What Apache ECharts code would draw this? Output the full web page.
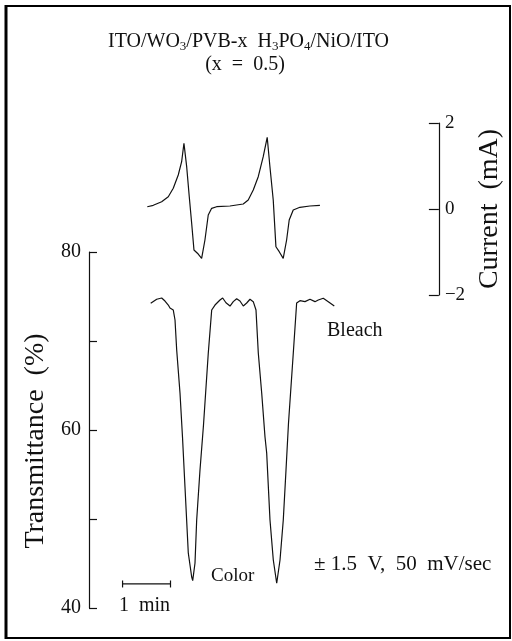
<!DOCTYPE html>
<html>
<head>
<meta charset="utf-8">
<script src="https://cdn.jsdelivr.net/npm/echarts@6/dist/echarts.min.js"></script>
<style>
html,body{margin:0;padding:0;background:#fff;}
#chart{width:512px;height:641px;}
</style>
</head>
<body>
<div id="chart"></div>
<script>
// time in minutes, transmittance in %
var transTime = [1.287,1.412,1.516,1.585,1.654,1.689,1.725,1.758,1.794,1.829,1.898,1.950,2.002,2.071,2.142,2.163,2.211,2.246,2.315,2.388,2.488,2.559,2.628,2.732,2.788,2.857,2.941,3.009,3.080,3.149,3.218,3.289,3.358,3.426,3.483,3.531,3.602,3.671,3.706,3.775,3.844,3.915,3.984,4.052,4.109,4.161,4.261,4.331,4.400,4.505,4.609,4.713,4.782,4.886,4.991,5.116];
var transValue = [74.24,74.69,74.83,74.49,74.04,73.71,73.93,73.48,72.36,68.99,64.16,59.21,53.6,46.18,43.48,43.07,45.06,49.89,55.51,60.56,68.65,73.48,74.04,74.61,74.83,74.30,73.93,74.42,74.75,74.49,73.93,74.27,74.69,74.42,73.48,68.65,64.16,59.21,57.42,49.89,45.39,42.78,45.39,49.89,55.51,60.79,68.65,74.27,74.53,74.42,74.69,74.42,74.61,74.80,74.42,73.93];
// time in minutes, current in mA
var currTime = [1.216,1.341,1.516,1.654,1.758,1.862,1.933,1.981,2.038,2.092,2.142,2.190,2.279,2.350,2.419,2.488,2.559,2.663,2.941,3.218,3.322,3.427,3.531,3.635,3.718,3.775,3.844,3.900,3.969,4.052,4.123,4.177,4.261,4.400,4.609,4.818];
var currValue = [0.053,0.086,0.17,0.286,0.481,0.791,1.10,1.528,0.984,0.286,-0.333,-0.953,-1.047,-1.147,-0.721,-0.140,0.016,0.053,0.07,0.116,0.209,0.442,0.751,1.216,1.667,0.984,0.209,-0.877,-0.993,-1.147,-0.721,-0.256,-0.023,0.04,0.07,0.086];
// 1 min scale bar
var scaleBarTime = [0.70, 1.70];
var scaleBarLevel = 42.7;
var transTicks = [40, 50, 60, 70, 80];
var transLabels = ['40', '', '60', '', '80'];
var currTicks = [-2, 0, 2];
var currLabels = ['\u22122', '0', '2'];

function zip(a, b){ return a.map(function(v,i){ return [v, b[i]]; }); }

var FONT = '"Liberation Serif", "DejaVu Serif", serif';
var INK = '#111';

var chart = echarts.init(document.getElementById('chart'), null, {renderer:'canvas'});
var option = {
  animation: false,
  backgroundColor: '#fff',
  textStyle: {fontFamily: FONT, color: INK},
  grid: [
    {left: 89, right: 73, top: 252, bottom: 33},
    {left: 89, right: 73, top: 123, bottom: 346}
  ],
  xAxis: [
    {gridIndex: 0, type: 'value', min: 0, max: 7.3, show: false},
    {gridIndex: 1, type: 'value', min: 0, max: 7.3, show: false}
  ],
  yAxis: [
    {
      gridIndex: 0, type: 'value', min: 40, max: 80, interval: 10, position: 'left',
      axisLine: {show: true, onZero: false, lineStyle: {color: INK, width: 1.2}},
      axisTick: {show: true, inside: true, length: 8, lineStyle: {color: INK, width: 1.2}},
      splitLine: {show: false},
      axisLabel: {
        margin: 8, fontSize: 20, fontFamily: FONT, color: INK,
        formatter: function(v){ var i = transTicks.indexOf(v); return i >= 0 ? transLabels[i] : ''; }
      },
      name: 'Transmittance  (%)', nameLocation: 'middle', nameGap: 32,
      nameTextStyle: {fontSize: 28, fontFamily: FONT, color: INK, padding: [0, 22, 0, 0]}
    },
    {
      gridIndex: 1, type: 'value', min: -2, max: 2, interval: 2, position: 'right',
      axisLine: {show: true, onZero: false, lineStyle: {color: INK, width: 1.2}},
      axisTick: {show: true, inside: true, length: 10, lineStyle: {color: INK, width: 1.2}},
      splitLine: {show: false},
      axisLabel: {
        margin: 6, fontSize: 19, fontFamily: FONT, color: INK,
        formatter: function(v){ var i = currTicks.indexOf(v); return i >= 0 ? currLabels[i] : ''; }
      },
      name: 'Current  (mA)', nameLocation: 'middle', nameGap: 34, nameRotate: 90,
      nameTextStyle: {fontSize: 28, fontFamily: FONT, color: INK}
    }
  ],
  series: [
    {
      type: 'line', xAxisIndex: 0, yAxisIndex: 0, data: zip(transTime, transValue),
      showSymbol: false, symbol: 'none', lineStyle: {color: INK, width: 1.2}
    },
    {
      type: 'line', xAxisIndex: 1, yAxisIndex: 1, data: zip(currTime, currValue),
      showSymbol: false, symbol: 'none', lineStyle: {color: INK, width: 1.2}
    },
    {
      type: 'line', xAxisIndex: 0, yAxisIndex: 0,
      data: scaleBarTime.map(function(t){ return [t, scaleBarLevel]; }),
      symbol: 'rect', symbolSize: [1.2, 7], itemStyle: {color: INK},
      lineStyle: {color: INK, width: 1.2}
    }
  ],
  graphic: [
    {type: 'line', shape: {x1: 6, y1: 5, x2: 6, y2: 639}, style: {stroke: '#000', lineWidth: 3}},
    {type: 'line', shape: {x1: 5, y1: 6, x2: 511, y2: 6}, style: {stroke: '#000', lineWidth: 2}},
    {type: 'line', shape: {x1: 510, y1: 5, x2: 510, y2: 639}, style: {stroke: '#000', lineWidth: 2}},
    {type: 'line', shape: {x1: 5, y1: 638, x2: 511, y2: 638}, style: {stroke: '#000', lineWidth: 2}},
    {
      type: 'text', left: 108, top: 32,
      style: {
        text: 'ITO/WO{s|3}/PVB-x  H{s|3}PO{s|4}/NiO/ITO',
        font: '20px ' + FONT, fill: INK,
        rich: {s: {fontSize: 13, fontFamily: FONT, padding: [10, 0, 0, 0], fill: INK}}
      }
    },
    {type: 'text', x: 245, y: 65, style: {text: '(x  =  0.5)', font: '20px ' + FONT, fill: INK, textAlign: 'center', textVerticalAlign: 'middle'}},
    {type: 'text', x: 327, y: 331, style: {text: 'Bleach', font: '20px ' + FONT, fill: INK, textAlign: 'left', textVerticalAlign: 'middle'}},
    {type: 'text', x: 211, y: 576, style: {text: 'Color', font: '19px ' + FONT, fill: INK, textAlign: 'left', textVerticalAlign: 'middle'}},
    {type: 'text', x: 314, y: 564, style: {text: '\u00b1 1.5  V,  50  mV/sec', font: '21px ' + FONT, fill: INK, textAlign: 'left', textVerticalAlign: 'middle'}},
    {type: 'text', x: 119, y: 606, style: {text: '1  min', font: '20px ' + FONT, fill: INK, textAlign: 'left', textVerticalAlign: 'middle'}}
  ]
};
chart.setOption(option);
</script>
</body>
</html>
